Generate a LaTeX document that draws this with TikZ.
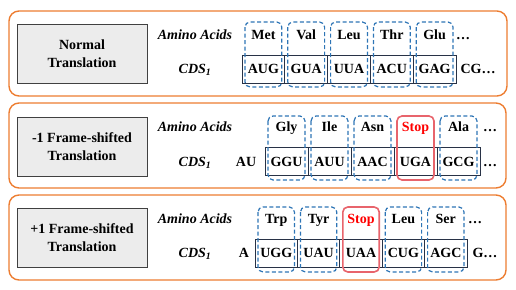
\documentclass[tikz,border=0pt]{standalone}
\usepackage{fontspec}
\setmainfont{Liberation Serif}
\definecolor{panelorange}{RGB}{237,125,49}
\definecolor{aablue}{RGB}{46,117,182}
\definecolor{stopred}{RGB}{232,100,108}
\definecolor{boxgray}{RGB}{236,236,236}
\definecolor{codonline}{RGB}{40,50,70}
\newcommand{\cds}{\textbf{\textit{CDS}}\textsubscript{\textbf{\textit{1}}}}

\begin{document}
\begin{tikzpicture}[x=1pt, y=-1pt, line width=1pt,
  panel/.style={draw=panelorange, line width=1.4pt, rounded corners=10pt},
  titlebox/.style={draw=black!75, fill=boxgray, line width=1pt, align=center,
    minimum width=130pt, minimum height=59pt, font=\fontsize{14}{18}\selectfont\bfseries},
  lbl/.style={font=\fontsize{14}{16}\selectfont\bfseries, inner sep=0pt, text height=9.5pt, text depth=0pt},
  codon/.style={lbl, draw=codonline, line width=0.8pt, minimum height=28pt},
  aabox/.style={draw=aablue, dash pattern=on 4pt off 2.5pt, line width=1.2pt, rounded corners=5pt},
  stopbox/.style={draw=stopred, line width=1.6pt, rounded corners=5pt}]
  \useasboundingbox (0,0) rectangle (516,289);

  % normal translation
  \draw[panel] (9,11) rectangle (507,96);
  \node[titlebox] (titleA) at (82,53.5) {Normal\\Translation};
  \node[lbl, font=\fontsize{14}{16}\selectfont\bfseries\itshape] (aminoA) at (195,35) {Amino Acids};
  \node[lbl] (cdsA) at (195,69) {\cds};
  \foreach \c [count=\i] in {AUG,GUA,UUA,ACU,GAG} {
    \node[codon, minimum width=42.8pt] (codonA-\i) at ({242+42.8*(\i-0.5)},69) {\c};
  }
  \foreach \a [count=\i] in {Met,Val,Leu,Thr,Glu} {
    \node[lbl] (acidA-\i) at ({242+42.8*(\i-0.5)},35) {\a};
    \draw[aabox] ({242+42.8*(\i-1)+3},22) rectangle ({242+42.8*\i-3},87);
  }
  \node[lbl] (moreA) at (463,35) {\ldots};
  \node[lbl] (tailA) at (478,69) {CG\ldots};

  % -1 frame shift
  \draw[panel] (9,103) rectangle (506,188);
  \node[titlebox] (titleB) at (82,146.5) {-1 Frame-shifted\\Translation};
  \node[lbl, font=\fontsize{14}{16}\selectfont\bfseries\itshape] (aminoB) at (195,127) {Amino Acids};
  \node[lbl] (cdsB) at (195,161.5) {\cds};
  \node[lbl] (headB) at (246,161.5) {AU};
  \foreach \c [count=\i] in {GGU,AUU,AAC,UGA,GCG} {
    \node[codon, minimum width=43pt] (codonB-\i) at ({265+43*(\i-0.5)},161.5) {\c};
  }
  \foreach \a/\s/\tc [count=\i] in {Gly/aabox/black,Ile/aabox/black,Asn/aabox/black,Stop/stopbox/red,Ala/aabox/black} {
    \node[lbl, text=\tc] (acidB-\i) at ({265+43*(\i-0.5)},127) {\a};
    \draw[\s] ({265+43*(\i-1)+3},116) rectangle ({265+43*\i-3},180);
  }
  \node[lbl] (moreB) at (490,127) {\ldots};
  \node[lbl] (tailB) at (490,161.5) {\ldots};

  % +1 frame shift
  \draw[panel] (9,195) rectangle (506,280);
  \node[titlebox] (titleC) at (82,237.5) {+1 Frame-shifted\\Translation};
  \node[lbl, font=\fontsize{14}{16}\selectfont\bfseries\itshape] (aminoC) at (195,219) {Amino Acids};
  \node[lbl] (cdsC) at (195,253) {\cds};
  \node[lbl] (headC) at (244,253) {A};
  \foreach \c [count=\i] in {UGG,UAU,UAA,CUG,AGC} {
    \node[codon, minimum width=42.4pt] (codonC-\i) at ({255+42.4*(\i-0.5)},253) {\c};
  }
  \foreach \a/\s/\tc [count=\i] in {Trp/aabox/black,Tyr/aabox/black,Stop/stopbox/red,Leu/aabox/black,Ser/aabox/black} {
    \node[lbl, text=\tc] (acidC-\i) at ({255+42.4*(\i-0.5)},219) {\a};
    \draw[\s] ({255+42.4*(\i-1)+3},207) rectangle ({255+42.4*\i-3},272);
  }
  \node[lbl] (moreC) at (475,219) {\ldots};
  \node[lbl] (tailC) at (485,253) {G\ldots};
\end{tikzpicture}
\end{document}
